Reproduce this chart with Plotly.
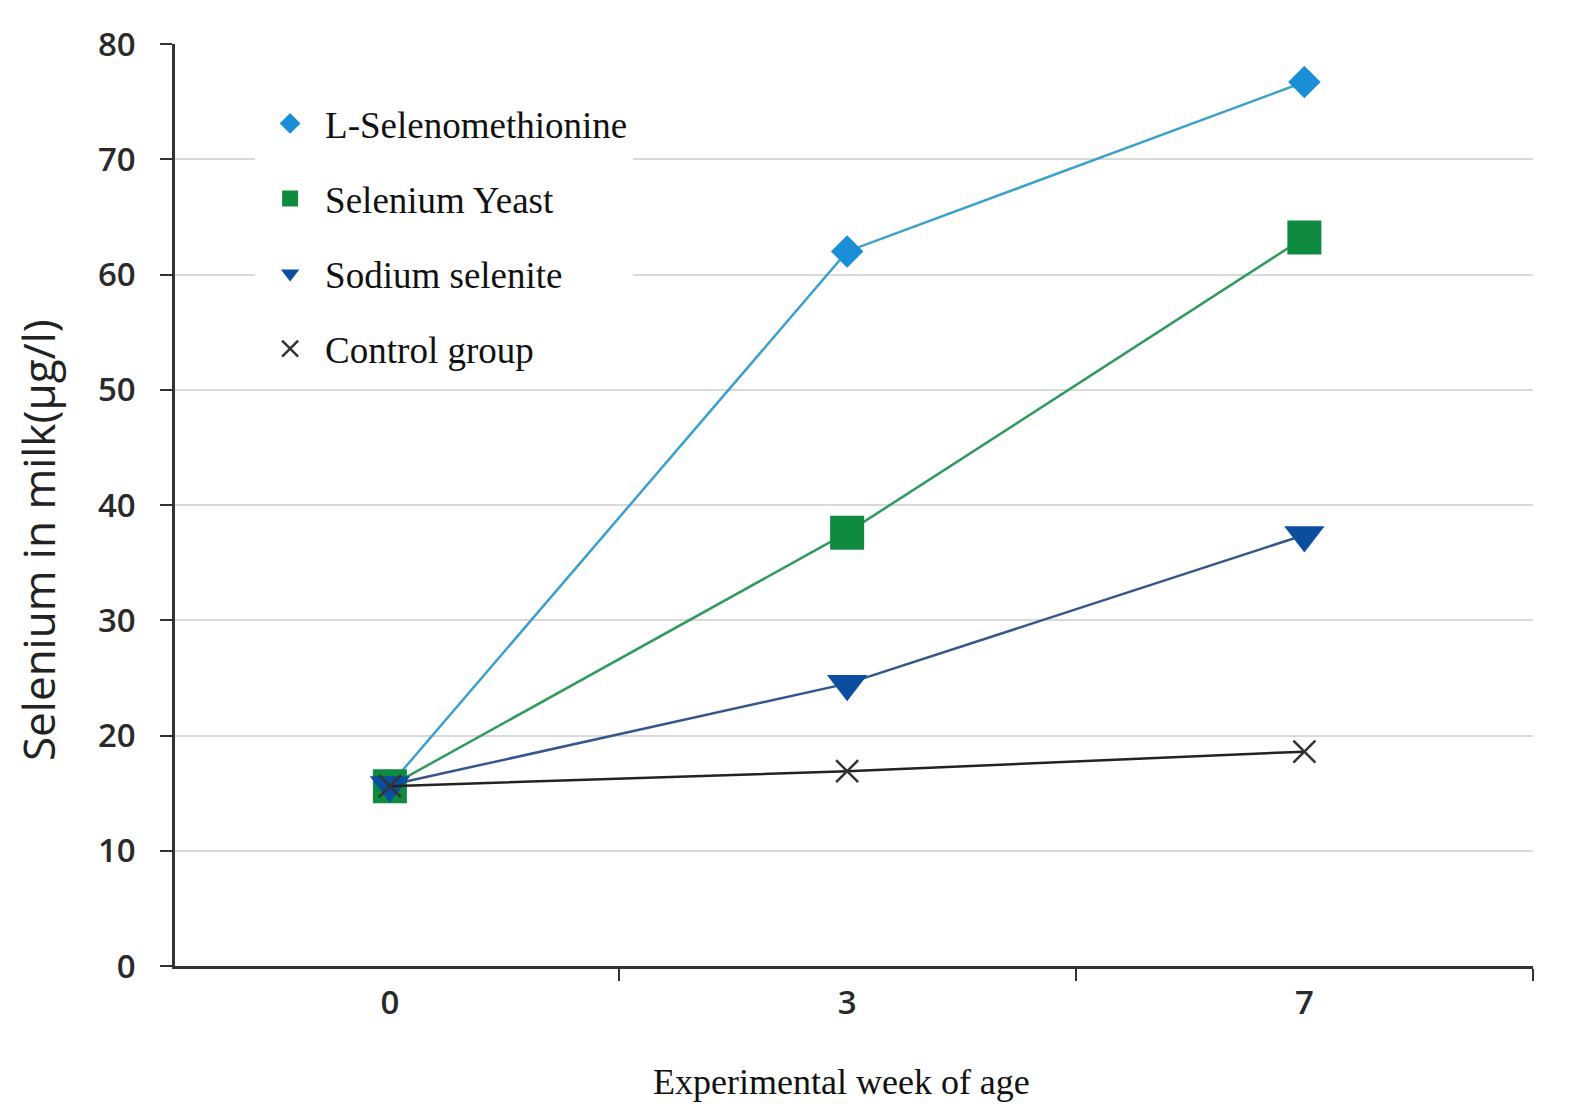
import plotly.graph_objects as go

weeks = ["0", "3", "7"]
series_names = ["L-Selenomethionine", "Selenium Yeast", "Sodium selenite", "Control group"]
l_selenomethionine = [15.7, 62.0, 76.7]
selenium_yeast = [15.6, 37.6, 63.2]
sodium_selenite = [15.7, 24.5, 37.4]
control_group = [15.6, 16.9, 18.6]
y_ticks = [0, 10, 20, 30, 40, 50, 60, 70, 80]

values = [l_selenomethionine, selenium_yeast, sodium_selenite, control_group]
line_colors = ["#3aa0cc", "#2e9a5c", "#34568c", "#222222"]
marker_colors = ["#1a8fd8", "#0f8b3f", "#0b4d9e", "#333333"]
symbols = ["diamond", "square", "triangle-down", "x-thin"]
sizes = [25, 34, 35, 22]

fig = go.Figure()
for i, (name, vals) in enumerate(zip(series_names, values)):
    fig.add_trace(go.Scatter(
        x=weeks, y=vals, mode="lines",
        line=dict(color=line_colors[i], width=2.5),
        showlegend=False, hoverinfo="skip", legendgroup=name,
    ))
    if symbols[i] == "x-thin":
        mk = dict(symbol="x-thin", size=sizes[i], color=marker_colors[i],
                  line=dict(color=marker_colors[i], width=2.5))
    else:
        mk = dict(symbol=symbols[i], size=sizes[i], color=marker_colors[i],
                  line=dict(width=0))
    fig.add_trace(go.Scatter(
        x=weeks, y=vals, mode="markers", name=name, marker=mk,
        legendgroup=name, showlegend=True,
    ))

fig.update_layout(
    width=1570, height=1112,
    margin=dict(l=167, r=45, t=36, b=154),
    paper_bgcolor="white", plot_bgcolor="white",
    showlegend=True,
    legend=dict(
        x=0.059, y=0.947, xanchor="left", yanchor="top",
        bgcolor="white", borderwidth=0,
        font=dict(family="Liberation Serif", size=37, color="#111111"),
        traceorder="grouped", tracegroupgap=24, itemwidth=60,
    ),
    xaxis=dict(
        type="category", categoryorder="array", categoryarray=weeks,
        range=[-0.47, 2.5], tickson="boundaries",
        showline=True, linecolor="#333333", linewidth=2.5,
        ticks="outside", ticklen=12, tickwidth=2, tickcolor="#333333",
        showgrid=False, zeroline=False,
        tickfont=dict(family="Open Sans", size=33, color="#2a2a2a", weight=600),
        ticklabelstandoff=6,
    ),
    yaxis=dict(
        range=[0, 80], tickvals=y_ticks,
        showline=True, linecolor="#333333", linewidth=2.5,
        ticks="outside", ticklen=12, tickwidth=2, tickcolor="#333333",
        showgrid=True, gridcolor="#d9d9d9", gridwidth=1.5, zeroline=False,
        tickfont=dict(family="Open Sans", size=33, color="#2a2a2a", weight=600),
        ticklabelstandoff=18,
    ),
    annotations=[
        dict(text="Selenium in milk(μg/l)", xref="paper", yref="paper",
             x=-0.1009, y=0.462, xanchor="center", yanchor="middle",
             textangle=-90, showarrow=False,
             font=dict(family="Open Sans", size=44, color="#222222")),
        dict(text="Experimental week of age", xref="paper", yref="paper",
             x=0.4905, y=-0.126, xanchor="center", yanchor="middle",
             showarrow=False,
             font=dict(family="Liberation Serif", size=36, color="#111111")),
    ],
)

fig.write_html("out.html")
